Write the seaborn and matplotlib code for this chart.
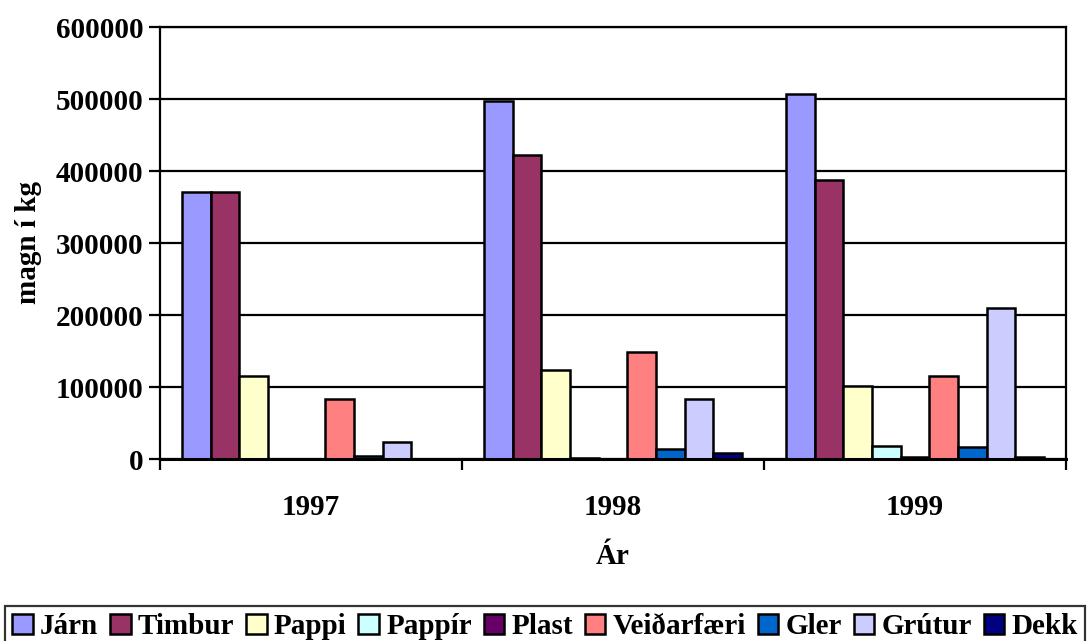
import matplotlib
matplotlib.use("Agg")
import matplotlib.pyplot as plt
from matplotlib.patches import Patch
from matplotlib.ticker import FixedLocator
import seaborn as sns
import pandas as pd

years = ["1997", "1998", "1999"]
categories = ["Járn", "Timbur", "Pappi", "Pappír", "Plast", "Veiðarfæri", "Gler", "Grútur", "Dekk"]
jarn = [371000, 497000, 507000]
timbur = [371000, 422000, 387000]
pappi = [115000, 123000, 101000]
pappir = [0, 1500, 18000]
plast = [0, 0, 3000]
veidarfaeri = [83000, 148000, 115000]
gler = [4000, 14000, 16000]
grutur = [24000, 83000, 210000]
dekk = [0, 9000, 3000]
colors = ["#9999FF", "#993366", "#FFFFCC", "#CCFFFF", "#660066", "#FF8080", "#0066CC", "#CCCCFF", "#000080"]
yticks = [0, 100000, 200000, 300000, 400000, 500000, 600000]

series = [jarn, timbur, pappi, pappir, plast, veidarfaeri, gler, grutur, dekk]
rows = []
for cat, vals in zip(categories, series):
    for y, v in zip(years, vals):
        rows.append({"Ár": y, "Flokkur": cat, "magn": v})
df = pd.DataFrame(rows)

sns.set_style("white")
plt.rcParams["font.family"] = ["Liberation Serif", "DejaVu Serif"]
plt.rcParams["font.weight"] = "bold"
plt.rcParams["text.color"] = "black"
plt.rcParams["axes.labelcolor"] = "black"
plt.rcParams["xtick.color"] = "black"
plt.rcParams["ytick.color"] = "black"

fig = plt.figure(figsize=(10.87, 6.41), dpi=100)
ax = fig.add_axes([160/1087, (641-459)/641, (1066-160)/1087, (459-27)/641])

sns.barplot(data=df, x="Ár", y="magn", hue="Flokkur", hue_order=categories,
            order=years, palette=colors, width=0.855, edgecolor="black",
            linewidth=1.8, saturation=1, ax=ax, legend=False, errorbar=None)

# hide outlines of empty bars
for p in ax.patches:
    if p.get_height() == 0:
        p.set_visible(False)

ax.set_ylim(0, 600000)
ax.set_xlim(-0.5, 2.5)
ax.set_yticks(yticks)
ax.set_yticklabels([str(t) for t in yticks], fontsize=21, fontweight="bold")
ax.yaxis.grid(True, color="black", linewidth=1.6)
ax.set_axisbelow(True)
ax.tick_params(axis="y", length=8, width=1.6, direction="out", pad=4, left=True)
ax.tick_params(axis="x", length=0, pad=25, labelsize=21)
for lab in ax.get_xticklabels():
    lab.set_fontweight("bold")
ax.xaxis.set_minor_locator(FixedLocator([-0.5, 0.5, 1.5, 2.5]))
ax.tick_params(axis="x", which="minor", length=8, width=1.6, direction="out", bottom=True)

for side in ["left", "right", "bottom", "top"]:
    ax.spines[side].set_visible(True)
    ax.spines[side].set_color("black")
    ax.spines[side].set_linewidth(1.6)
ax.spines["bottom"].set_linewidth(2.2)

ax.set_xlabel("Ár", fontsize=21, fontweight="bold", labelpad=16)
ax.set_ylabel("magn í kg", fontsize=21, fontweight="bold", labelpad=10)

handles = [Patch(facecolor=c, edgecolor="black", linewidth=1.8, label=l) for c, l in zip(colors, categories)]
leg = fig.legend(handles=handles, loc="lower left", bbox_to_anchor=(5/1087, -0.01, 1080/1087, (641-599)/641 + 0.01),
                 mode="expand", ncol=9, frameon=True, fancybox=False,
                 handlelength=0.7, handleheight=0.7, handletextpad=0.25, columnspacing=0.5,
                 borderpad=0.25, borderaxespad=0, prop={"weight": "bold", "size": 21})
leg.get_frame().set_edgecolor("black")
leg.get_frame().set_linewidth(1.6)

fig.savefig("out.png", dpi=100)
